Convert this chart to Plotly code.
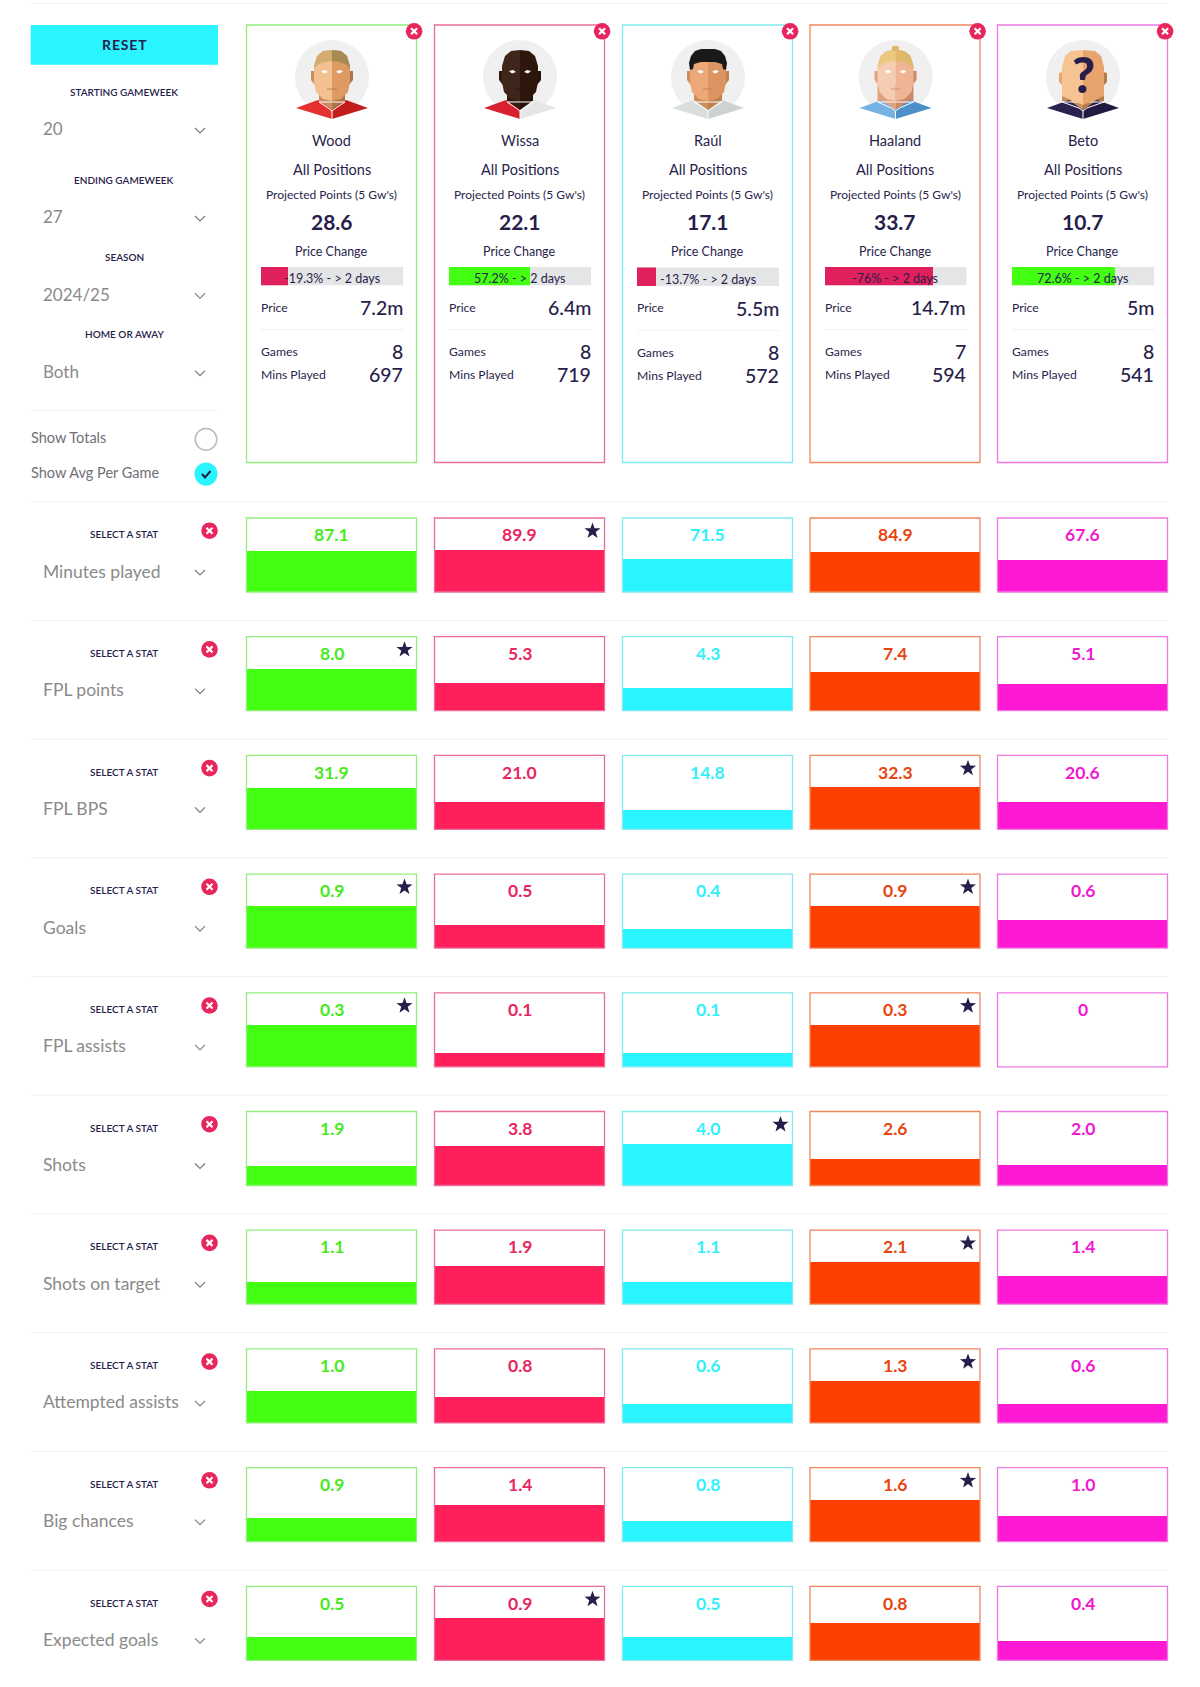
import plotly.graph_objects as go

W, H = 1200, 1687

# data
players = ["Wood", "Wissa", "Raúl", "Haaland", "Beto"]
projected = ["28.6", "22.1", "17.1", "33.7", "10.7"]
price_change = [-19.3, 57.2, -13.7, -76, 72.6]
prices = ["7.2m", "6.4m", "5.5m", "14.7m", "5m"]
games = [8, 8, 8, 7, 8]
mins_played = [697, 719, 572, 594, 541]

stats = ["Minutes played", "FPL points", "FPL BPS", "Goals", "FPL assists",
         "Shots", "Shots on target", "Attempted assists", "Big chances", "Expected goals"]
wood = [87.1, 8.0, 31.9, 0.9, 0.3, 1.9, 1.1, 1.0, 0.9, 0.5]
wissa = [89.9, 5.3, 21.0, 0.5, 0.1, 3.8, 1.9, 0.8, 1.4, 0.9]
raul = [71.5, 4.3, 14.8, 0.4, 0.1, 4.0, 1.1, 0.6, 0.8, 0.5]
haaland = [84.9, 7.4, 32.3, 0.9, 0.3, 2.6, 2.1, 1.3, 1.6, 0.8]
beto = [67.6, 5.1, 20.6, 0.6, 0, 2.0, 1.4, 0.6, 1.0, 0.4]
series = [wood, wissa, raul, haaland, beto]

filters = [("STARTING GAMEWEEK", "20", 92.3, 129), ("ENDING GAMEWEEK", "27", 180.3, 217),
           ("SEASON", "2024/25", 257.3, 294.3), ("HOME OR AWAY", "Both", 334.7, 371.7)]

# styling
FONT = "Lato"
NAVY = "#281e4b"
GREY = "#8a8a8a"
RULE = "#f0f0f0"
RED = "#e8265e"
fills = ["#43ff12", "#ff1f5a", "#2af4ff", "#fd4000", "#ff19d5"]
borders = ["#92ee7c", "#ea6c9c", "#84eaf0", "#f0865c", "#ee78e2"]
text_cols = ["#48ea1e", "#e8265e", "#32f0fa", "#e8440e", "#f018d0"]
card_left = [246.5, 434.5, 622.5, 810, 997.5]
card_w = 170
card_dy = [0, 0, 0.7, 0, 0]
row_top0, row_step, row_h = 518, 118.7, 74
fill_h = 42

fig = go.Figure()
shapes, notes = [], []


def px(x):
    return x / W


def py(y):
    return 1 - y / H


def label(x, y, text, size, color=NAVY, anchor="center", weight=None):
    notes.append(dict(x=px(x), y=py(y), xref="paper", yref="paper", text=str(text), showarrow=False,
                      xanchor=anchor, yanchor="middle", borderpad=0,
                      font=dict(family=FONT, size=size, color=color, weight=weight)))


def line(x0, y0, x1, y1, color=RULE, width=1):
    shapes.append(dict(type="line", xref="paper", yref="paper", x0=px(x0), y0=py(y0), x1=px(x1), y1=py(y1),
                       line=dict(color=color, width=width)))


def rect(x0, y0, x1, y1, fill="rgba(0,0,0,0)", color=None, width=0):
    shapes.append(dict(type="rect", xref="paper", yref="paper", x0=px(x0), y0=py(y0), x1=px(x1), y1=py(y1),
                       fillcolor=fill, line=dict(color=color, width=width)))


def circle(cx, cy, r, fill, color=None, width=0):
    shapes.append(dict(type="circle", xref="paper", yref="paper", x0=px(cx - r), y0=py(cy - r),
                       x1=px(cx + r), y1=py(cy + r), fillcolor=fill, line=dict(color=color, width=width)))


def poly(cx, cy, pts, fill=None, color=None, width=0, closed=True):
    d = "M" + " L".join(f"{px(cx + a):.5f} {py(cy + b):.5f}" for a, b in pts)
    if closed:
        d += " Z"
    shapes.append(dict(type="path", xref="paper", yref="paper", path=d,
                       fillcolor=fill if fill else "rgba(0,0,0,0)", line=dict(color=color, width=width)))


def mirror(pts):
    return [(-a, b) for a, b in pts]


def chevron(x, y):
    poly(x, y, [(-5, -2.5), (0, 2.5), (5, -2.5)], color="#777777", width=1.1, closed=False)


def close_icon(x, y):
    circle(x, y, 8.3, RED)
    line(x - 3, y - 3, x + 3, y + 3, "white", 2.2)
    line(x - 3, y + 3, x + 3, y - 3, "white", 2.2)


def star(x, y, r=8.5):
    # five point star, outer and inner corners
    pts = [(-0.0, -1), (0.24, -0.33), (0.95, -0.31), (0.38, 0.12), (0.59, 0.81),
           (0, 0.4), (-0.59, 0.81), (-0.38, 0.12), (-0.95, -0.31), (-0.24, -0.33)]
    poly(x, y, [(a * r, b * r) for a, b in pts], fill=NAVY)


HEAD = [(0, -27), (-9, -26), (-15, -21), (-18, -11), (-18, 5), (-16, 15), (-9, 22), (0, 24)]
WIDE_HEAD = [(0, -27), (-12, -26), (-18, -21), (-21, -10), (-21, 16), (-21, 19), (-10, 24), (0, 28)]
HAIR = [(0, -27), (-9, -26), (-15, -21), (-18, -11), (-18, -8), (-15, -12), (-8, -15), (0, -16)]
RAUL_HAIR = [(0, -28), (-7, -28), (-13, -26), (-17, -21), (-19, -14), (-18, -7), (-15, -8), (-14, -13),
             (-7, -15), (0, -15)]
EAR = [(-17, -6), (-21, -6), (-21, 3), (-17, 8)]
WIDE_EAR = [(-20, -5), (-24, -4), (-24, 5), (-20, 9)]
SHIRT = [(0, 33), (-14, 23), (-36, 31), (0, 42)]
avatars = [
    dict(skin=("#f3c08f", "#dd9a63"), neck=("#c98c5e", "#b0744a"), hair=("#d3ac72", "#a98a52"),
         shirt=("#e5302f", "#c41d1d"), neck_w=13),
    dict(skin=("#40261a", "#2d170d"), neck=("#33190e", "#27120a"), hair=None,
         shirt=("#d8202f", "#e6e6e6"), neck_w=13),
    dict(skin=("#eca877", "#dd9463"), neck=("#d08c58", "#c27e4c"), hair=("#191919", "#191919"),
         shirt=("#d9dddd", "#cdd2d2"), neck_w=14),
    dict(skin=("#f6cdb2", "#eeb493"), neck=("#e3a27e", "#cc8964"), hair=("#ecc97f", "#dfb969"),
         shirt=("#76b3e2", "#4c8fc9"), neck_w=18),
    dict(skin=("#f6c392", "#e7a46c"), neck=("#c9905c", "#b47b49"), hair=None,
         shirt=("#2a2350", "#211a42"), neck_w=21),
]


def avatar(cx, a, unknown=False):
    cy = 77
    circle(cx, cy, 37, "#f0f0f0")
    nw = a["neck_w"]
    head, ear = (WIDE_HEAD, WIDE_EAR) if unknown else (HEAD, EAR)
    poly(cx, cy, ear, a["skin"][1] if unknown else a["neck"][0])
    poly(cx, cy, mirror(ear), a["neck"][1])
    neck = [(0, 8), (-nw, 8), (-nw, 24), (0, 34)]
    poly(cx, cy, neck, a["neck"][0])
    poly(cx, cy, mirror(neck), a["neck"][1])
    poly(cx, cy, SHIRT, a["shirt"][0])
    poly(cx, cy, mirror(SHIRT), a["shirt"][1])
    collar = "#ffffff"
    poly(cx, cy, [(-nw, 25), (-4, 31), (0, 34), (4, 31), (nw, 25)], color=collar, width=1)
    line(cx, cy + 34, cx, cy + 42, collar, 1)
    poly(cx, cy, head, a["skin"][0])
    poly(cx, cy, mirror(head), a["skin"][1])
    if a["hair"]:
        pts = RAUL_HAIR if a["hair"][0] == "#191919" else HAIR
        poly(cx, cy, pts, a["hair"][0])
        poly(cx, cy, mirror(pts), a["hair"][1])
    if a["skin"][0] == "#f6cdb2":  # top knot
        poly(cx, cy, [(-4, -26), (-3, -31), (3, -31), (4, -26)], a["hair"][1])
    if not unknown:
        for s in (-1, 1):
            poly(cx, cy, [(s * 4, -5), (s * 7, -7), (s * 11, -6), (s * 8, -3.5)], "#ffffff")
        poly(cx, cy, [(-5, 12), (5, 12)], color=a["neck"][1], width=0.8, closed=False)
    else:
        label(cx, cy - 3, "?", 50, NAVY, weight=900)


# row bars: one x axis per player, one y axis per stat
layout_axes = {}
for c in range(5):
    key = f"xaxis{c + 1}" if c else "xaxis"
    layout_axes[key] = dict(domain=[px(card_left[c]), px(card_left[c] + card_w)], range=[-0.5, 0.5],
                            visible=False, fixedrange=True, anchor="y")
for r in range(len(stats)):
    top = row_top0 + r * row_step
    row_max = max(s[r] for s in series)
    key = f"yaxis{r + 1}" if r else "yaxis"
    layout_axes[key] = dict(domain=[py(top + row_h), py(top)], range=[0, row_max * row_h / fill_h],
                            visible=False, fixedrange=True, anchor="x")
    for c in range(5):
        fig.add_trace(go.Bar(x=[0], y=[series[c][r]], width=1, marker=dict(color=fills[c], line=dict(width=0)),
                             name=players[c], hoverinfo="skip", showlegend=False,
                             xaxis=f"x{c + 1}" if c else "x", yaxis=f"y{r + 1}" if r else "y"))

# price change bars
for c in range(5):
    xa, ya = 6 + c, 11 + c
    left = card_left[c] + 14.5
    layout_axes[f"xaxis{xa}"] = dict(domain=[px(left), px(left + 142)], range=[0, 100], visible=False,
                                     fixedrange=True, anchor=f"y{ya}")
    layout_axes[f"yaxis{ya}"] = dict(domain=[py(285.3 + card_dy[c]), py(266.7 + card_dy[c])], range=[-0.5, 0.5],
                                     visible=False, fixedrange=True, anchor=f"x{xa}")
    fig.add_trace(go.Bar(x=[100], y=[0], width=1, orientation="h", marker=dict(color="#e4e5e6", line=dict(width=0)),
                         hoverinfo="skip", showlegend=False, xaxis=f"x{xa}", yaxis=f"y{ya}"))
    change = price_change[c]
    fig.add_trace(go.Bar(x=[abs(change)], y=[0], width=1, orientation="h",
                         marker=dict(color="#e0205c" if change < 0 else "#43ff12", line=dict(width=0)),
                         hoverinfo="skip", showlegend=False, xaxis=f"x{xa}", yaxis=f"y{ya}"))

# top rule and sidebar
line(31, 3.5, 1168, 3.5)
rect(30.7, 25, 218, 64.7, fill="#2af4ff")
label(124, 44.5, "R E S E T".replace(" ", "\u200a"), 14, NAVY, weight=700)
for title, val, ty, vy in filters:
    label(124, ty - 0.3, title, 10, NAVY, weight=600)
    label(42, vy, val, 17, GREY, "left")
    chevron(200, vy + 1.5)
line(31, 410.7, 218, 410.7)
label(30, 437.5, "Show Totals", 14.5, "#6f6f78", "left")
circle(206, 439.3, 10.8, "#ffffff", "#b9b9b9", 1.5)
label(30, 472.2, "Show Avg Per Game", 14.5, "#6f6f78", "left")
circle(206, 474, 11.5, "#2af4ff")
poly(206, 474, [(-4, 0), (-1, 3.5), (4.5, -3)], color=NAVY, width=2, closed=False)

# player cards
for c in range(5):
    left = card_left[c]
    right = left + card_w
    mid = left + card_w / 2
    dy = card_dy[c]
    rect(left, 25, right, 462.5, color=borders[c], width=1.3)
    avatar(mid + 0.5, avatars[c], unknown=(c == 4))
    close_icon(right - 2.4, 31.3)
    label(mid, 140.5, players[c], 14.5)
    label(mid, 170, "All Positions", 14.5)
    label(mid, 194, "Projected Points (5 Gw's)", 12)
    label(mid, 222, projected[c], 21, weight=700)
    label(mid, 251 + dy, "Price Change", 12.5)
    label(mid, 278.8 + dy, f"{price_change[c]}% - > 2 days", 12.5)
    label(left + 13.5, 307 + dy, "Price", 12.2, anchor="left")
    label(right - 13, 307.7 + dy, prices[c], 19.5, anchor="right", weight=500)
    line(left + 14.5, 329.5 + dy, right - 13, 329.5 + dy)
    label(left + 13.5, 351.7 + dy, "Games", 12.2, anchor="left")
    label(right - 13, 351.7 + dy, games[c], 19.5, anchor="right", weight=500)
    label(left + 13.5, 374.7 + dy, "Mins Played", 12.2, anchor="left")
    label(right - 13, 374.7 + dy, mins_played[c], 19.5, anchor="right", weight=500)

# stat rows
for r, stat in enumerate(stats):
    top = row_top0 + r * row_step
    line(31, top - 16.3, 1168, top - 16.3)
    label(124, top + 16.2, "SELECT A STAT", 10, NAVY, weight=600)
    close_icon(209.5, top + 12.7)
    label(42, top + 53, stat, 17.5, GREY, "left")
    chevron(200, top + 54.5)
    row_max = max(s[r] for s in series)
    for c in range(5):
        left = card_left[c]
        value = series[c][r]
        rect(left, top, left + card_w, top + row_h, color=borders[c], width=1.3)
        text = f"{value:.1f}" if value else "0"
        label(left + card_w / 2, top + 16.7, text, 17.5, text_cols[c], weight=700)
        if value == row_max:
            star(left + card_w - 12, top + 13)

fig.update_layout(width=W, height=H, margin=dict(l=0, r=0, t=0, b=0), barmode="overlay",
                  paper_bgcolor="white", plot_bgcolor="rgba(0,0,0,0)", showlegend=False,
                  shapes=shapes, annotations=notes, bargap=0, **layout_axes)

fig.write_html("out.html", config=dict(displayModeBar=False), post_script="document.body.style.margin='0';")
